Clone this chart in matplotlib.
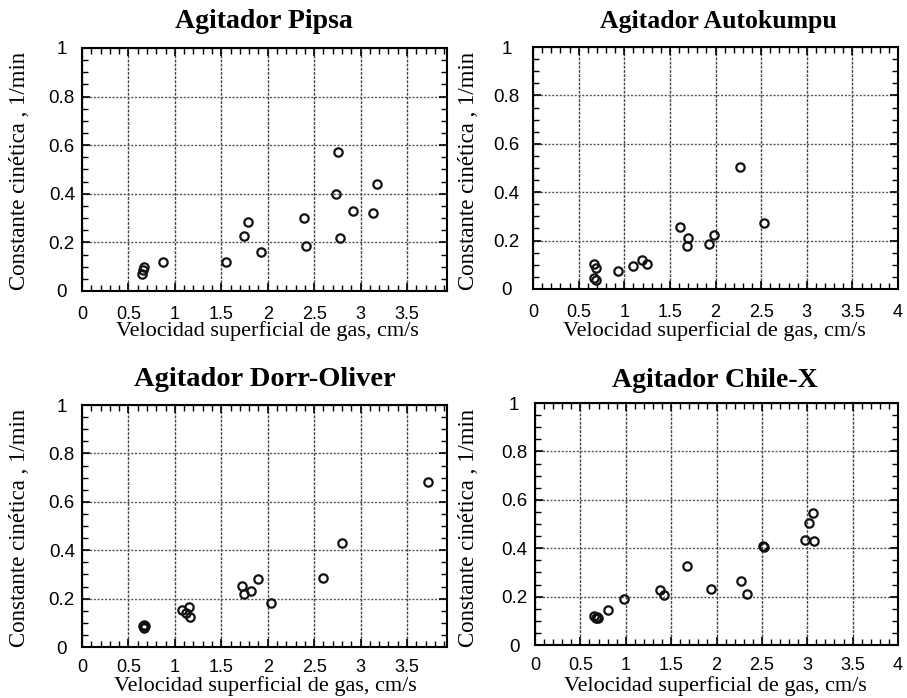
import matplotlib
matplotlib.use("Agg")
import matplotlib.pyplot as plt
from matplotlib.ticker import MultipleLocator

# ---------------- data ----------------
titles = ["Agitador Pipsa", "Agitador Autokumpu", "Agitador Dorr-Oliver", "Agitador Chile-X"]
ylabel = "Constante cinética , 1/min"
xlabel = "Velocidad superficial de gas, cm/s"

pipsa_x = [0.65, 0.66, 0.67, 0.87, 1.55, 1.74, 1.79, 1.93, 2.39, 2.41, 2.73, 2.76, 2.78, 2.92, 3.13, 3.18]
pipsa_y = [0.07, 0.085, 0.10, 0.12, 0.118, 0.227, 0.285, 0.159, 0.302, 0.186, 0.399, 0.571, 0.22, 0.33, 0.323, 0.44]

auto_x = [0.667, 0.685, 0.667, 0.69, 0.93, 1.10, 1.19, 1.25, 1.61, 1.70, 1.69, 1.93, 1.98, 2.27, 2.53]
auto_y = [0.103, 0.086, 0.045, 0.036, 0.073, 0.097, 0.12, 0.105, 0.255, 0.21, 0.178, 0.186, 0.223, 0.504, 0.271]

dorr_x = [0.66, 0.67, 0.67, 0.68, 1.075, 1.147, 1.12, 1.165, 1.72, 1.745, 1.82, 1.89, 2.035, 2.59, 2.80, 3.73]
dorr_y = [0.085, 0.079, 0.091, 0.085, 0.152, 0.166, 0.141, 0.123, 0.253, 0.22, 0.23, 0.28, 0.182, 0.285, 0.429, 0.68]

chile_x = [0.65, 0.67, 0.69, 0.68, 0.805, 0.985, 1.38, 1.42, 1.68, 1.94, 2.27, 2.34, 2.52, 2.51, 2.98, 3.07, 3.02, 3.06]
chile_y = [0.12, 0.11, 0.11, 0.117, 0.145, 0.19, 0.228, 0.207, 0.327, 0.23, 0.266, 0.21, 0.404, 0.41, 0.434, 0.43, 0.503, 0.547]

series = [(pipsa_x, pipsa_y), (auto_x, auto_y), (dorr_x, dorr_y), (chile_x, chile_y)]
xmax = [3.93, 4.0, 3.93, 4.0]
xticks_lists = [[0, 0.5, 1, 1.5, 2, 2.5, 3, 3.5],
                [0, 0.5, 1, 1.5, 2, 2.5, 3, 3.5, 4],
                [0, 0.5, 1, 1.5, 2, 2.5, 3, 3.5],
                [0, 0.5, 1, 1.5, 2, 2.5, 3, 3.5, 4]]
xtick_labels = [["0", "0.5", "1", "1.5", "2", "2.5", "3", "3.5"],
                ["0", "0.5", "1", "1.5", "2", "2.5", "3", "3.5", "4"],
                ["0", "0.5", "1", "1.5", "2", "2.5", "3", "3.5"],
                ["0", "0.5", "1", "1.5", "2", "2.5", "3", "3.5", "4"]]
yticks = [0, 0.2, 0.4, 0.6, 0.8, 1]
ytick_labels = ["0", "0.2", "0.4", "0.6", "0.8", "1"]

# ---------------- layout ----------------
W, H = 907, 698
fig = plt.figure(figsize=(W / 100, H / 100), dpi=100)
fig.patch.set_facecolor("white")

SERIF = ["Liberation Serif", "DejaVu Serif"]
SANS = ["Liberation Sans", "DejaVu Sans"]

# pixel boxes: left, top, right, bottom
boxes = [(82, 48, 447, 291), (533, 47, 898, 289), (82, 405, 447, 647), (535, 403, 898, 645)]
title_pos = [(264, 28), (718, 28), (265, 386), (715, 387)]
title_size = [20, 18.5, 20.5, 20]
ylab_pos = [(20, 171), (468, 171), (20, 528), (469, 528)]
xlab_pos = [(267, 336), (714, 336), (265, 691), (715, 691)]
xpads = [10.5, 10.5, 9, 9]
ypads = [14.5, 19, 14.5, 15]

for i in range(4):
    l, t, r, b = boxes[i]
    ax = fig.add_axes([l / W, 1 - b / H, (r - l) / W, (b - t) / H])
    x, y = series[i]
    ax.plot(x, y, linestyle="none", marker="o", markersize=6,
            markerfacecolor="none", markeredgecolor="#111111", markeredgewidth=1.6, zorder=5)
    ax.set_xlim(0, xmax[i])
    ax.set_ylim(0, 1)
    ax.set_xticks(xticks_lists[i])
    ax.set_xticklabels(xtick_labels[i], fontfamily=SANS, fontsize=13)
    ax.set_yticks(yticks)
    ax.set_yticklabels(ytick_labels, fontfamily=SANS, fontsize=13.5)
    for lab in ax.get_yticklabels():
        lab.set_horizontalalignment("center")
    ax.xaxis.set_minor_locator(MultipleLocator(0.1))
    ax.yaxis.set_minor_locator(MultipleLocator(0.05))
    ax.tick_params(which="both", direction="in", top=True, right=True, color="black")
    ax.tick_params(which="major", length=6, width=1.2)
    ax.tick_params(which="minor", length=4, width=1.0)
    ax.tick_params(axis="y", which="major", pad=ypads[i])
    ax.tick_params(axis="x", which="major", pad=xpads[i])
    ax.grid(True, which="major", axis="x", color="#444444", linestyle=(0, (2, 1)), linewidth=1.0)
    ax.grid(True, which="major", axis="y", color="#555555", linestyle=(0, (1.5, 1.2)), linewidth=1.0)
    for sp in ax.spines.values():
        sp.set_linewidth(1.5)
        sp.set_color("black")

    tx, ty = title_pos[i]
    fig.text(tx / W, 1 - ty / H, titles[i], ha="center", va="baseline",
             fontfamily=SERIF, fontweight="bold", fontsize=title_size[i])
    yx, yy = ylab_pos[i]
    fig.text(yx / W, 1 - yy / H, ylabel, ha="center", va="center", rotation=90,
             fontfamily=SERIF, fontsize=16.5)
    xx, xy = xlab_pos[i]
    fig.text(xx / W, 1 - xy / H, xlabel, ha="center", va="baseline",
             fontfamily=SERIF, fontsize=16)

fig.savefig("out.png", dpi=100, facecolor="white")
